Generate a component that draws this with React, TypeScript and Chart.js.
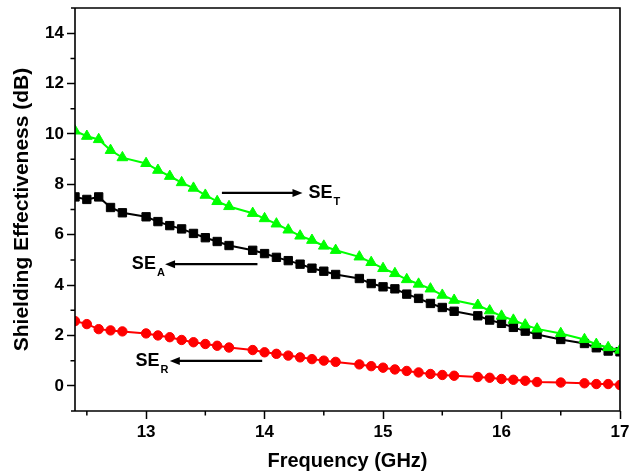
import { useEffect, useRef } from "react";
import { Chart, registerables } from "chart.js";

Chart.register(...registerables);

const FONT = '"Liberation Sans", Arial, sans-serif';

const frequencyGHz = [
  12.4, 12.5, 12.6, 12.7, 12.8, 13.0, 13.1, 13.2, 13.3, 13.4, 13.5, 13.6, 13.7, 13.9,
  14.0, 14.1, 14.2, 14.3, 14.4, 14.5, 14.6, 14.8, 14.9, 15.0, 15.1, 15.2, 15.3, 15.4,
  15.5, 15.6, 15.8, 15.9, 16.0, 16.1, 16.2, 16.3, 16.5, 16.7, 16.8, 16.9, 17.0,
];

const seT = [
  10.12, 9.91, 9.78, 9.35, 9.06, 8.83, 8.56, 8.32, 8.07, 7.85, 7.57, 7.32, 7.12, 6.85,
  6.64, 6.43, 6.19, 5.95, 5.78, 5.55, 5.38, 5.12, 4.9, 4.66, 4.46, 4.22, 4.04, 3.85,
  3.6, 3.4, 3.2, 2.98, 2.77, 2.61, 2.42, 2.26, 2.08, 1.84, 1.65, 1.52, 1.42,
];

const seA = [
  7.5, 7.4, 7.5, 7.08, 6.87, 6.71, 6.52, 6.36, 6.23, 6.05, 5.88, 5.73, 5.57, 5.38,
  5.25, 5.1, 4.97, 4.83, 4.67, 4.55, 4.42, 4.26, 4.06, 3.93, 3.85, 3.64, 3.47, 3.27,
  3.11, 2.96, 2.78, 2.61, 2.48, 2.32, 2.17, 2.04, 1.84, 1.68, 1.51, 1.38, 1.35,
];

const seR = [
  2.57, 2.45, 2.25, 2.2, 2.16, 2.08, 2.0, 1.93, 1.82, 1.73, 1.66, 1.59, 1.52, 1.42,
  1.33, 1.27, 1.2, 1.13, 1.06, 1.0, 0.95, 0.85, 0.78, 0.72, 0.65, 0.59, 0.53, 0.47,
  0.43, 0.4, 0.35, 0.32, 0.27, 0.24, 0.2, 0.15, 0.13, 0.1, 0.07, 0.07, 0.03,
];

const xMajorTicks = [13, 14, 15, 16, 17];
const xMinorTicks = [12.5, 13.5, 14.5, 15.5, 16.5];
const yMajorTicks = [0, 2, 4, 6, 8, 10, 12, 14];
const yMinorTicks = [1, 3, 5, 7, 9, 11, 13];

const arrowNotes = [
  { text: "SE", sub: "T", tailX: 13.64, headX: 14.32, y: 7.66, labelX: 14.37 },
  { text: "SE", sub: "A", tailX: 13.94, headX: 13.16, y: 4.83, labelX: 12.88 },
  { text: "SE", sub: "R", tailX: 13.98, headX: 13.2, y: 0.99, labelX: 12.91 },
];

const toPoints = (ys: number[]) => frequencyGHz.map((x, i) => ({ x, y: ys[i] }));

const framePlugin = {
  id: "frameAndNotes",
  afterDraw(chart: any) {
    const { ctx, chartArea: ca, scales } = chart;
    const xs = scales.x;
    const ys = scales.y;
    ctx.save();
    ctx.strokeStyle = "#000";
    ctx.lineWidth = 1.6;
    ctx.beginPath();
    ctx.moveTo(ca.left - 4, ca.top);
    ctx.lineTo(ca.right, ca.top);
    ctx.lineTo(ca.right, ca.bottom);
    ctx.moveTo(ca.left - 4, ca.bottom);
    ctx.lineTo(ca.right, ca.bottom);
    ctx.moveTo(ca.left, ca.top);
    ctx.lineTo(ca.left, ca.bottom);
    ctx.stroke();

    ctx.lineWidth = 1.5;
    ctx.beginPath();
    for (const v of xMinorTicks) {
      const px = xs.getPixelForValue(v);
      ctx.moveTo(px, ca.bottom);
      ctx.lineTo(px, ca.bottom + 4.5);
    }
    for (const v of yMinorTicks) {
      const py = ys.getPixelForValue(v);
      ctx.moveTo(ca.left, py);
      ctx.lineTo(ca.left - 4.5, py);
    }
    ctx.stroke();

    for (const n of arrowNotes) {
      const py = ys.getPixelForValue(n.y);
      const tx = xs.getPixelForValue(n.tailX);
      const hx = xs.getPixelForValue(n.headX);
      const dir = hx > tx ? 1 : -1;
      ctx.strokeStyle = "#000";
      ctx.fillStyle = "#000";
      ctx.lineWidth = 2.2;
      ctx.beginPath();
      ctx.moveTo(tx, py);
      ctx.lineTo(hx - dir * 6, py);
      ctx.stroke();
      ctx.beginPath();
      ctx.moveTo(hx, py);
      ctx.lineTo(hx - dir * 10, py - 4);
      ctx.lineTo(hx - dir * 10, py + 4);
      ctx.closePath();
      ctx.fill();

      const lx = xs.getPixelForValue(n.labelX);
      ctx.textAlign = "left";
      ctx.textBaseline = "middle";
      ctx.font = `bold 18px ${FONT}`;
      ctx.fillText(n.text, lx, py);
      const w = ctx.measureText(n.text).width;
      ctx.font = `bold 11px ${FONT}`;
      ctx.fillText(n.sub, lx + w + 1, py + 9);
    }
    ctx.restore();
  },
};

export default function App() {
  const canvasRef = useRef<HTMLCanvasElement | null>(null);

  useEffect(() => {
    document.body.style.margin = "0";
    const canvas = canvasRef.current;
    if (!canvas) return;

    const pointDs = (label: string, ys: number[], color: string, style: string, radius: number) => ({
      label,
      data: toPoints(ys),
      borderColor: color,
      backgroundColor: color,
      borderWidth: 2,
      pointStyle: style,
      pointRadius: radius,
      pointBorderWidth: 1,
      pointBorderColor: color,
      pointBackgroundColor: color,
      tension: 0,
    });

    const chart = new Chart(canvas, {
      type: "line",
      data: {
        datasets: [
          pointDs("SE_R", seR, "#ff0000", "circle", 4.7),
          pointDs("SE_T", seT, "#00ff00", "triangle", 6.2),
          pointDs("SE_A", seA, "#000000", "rect", 5.9),
        ],
      },
      options: {
        responsive: false,
        animation: false,
        layout: { padding: { top: 8, right: 18, left: 0, bottom: 0 } },
        plugins: { legend: { display: false }, tooltip: { enabled: false } },
        scales: {
          x: {
            type: "linear",
            min: 12.4,
            max: 17,
            afterBuildTicks: (s: any) => {
              s.ticks = xMajorTicks.map((v) => ({ value: v }));
            },
            afterFit: (s: any) => {
              s.height = 65;
              s.paddingLeft = 0;
              s.paddingRight = 0;
            },
            grid: {
              drawOnChartArea: false,
              drawTicks: true,
              tickLength: 8,
              tickWidth: 1.5,
              tickColor: "#000",
            },
            border: { display: false },
            ticks: {
              color: "#000",
              font: { family: FONT, size: 17, weight: "bold" },
              padding: 3,
              maxRotation: 0,
              autoSkip: false,
              callback: (v: any) => String(v),
            },
            title: {
              display: true,
              text: "Frequency (GHz)",
              color: "#000",
              font: { family: FONT, size: 20, weight: "bold" },
              padding: { top: 0, bottom: 3 },
            },
          },
          y: {
            type: "linear",
            min: -1,
            max: 15,
            afterBuildTicks: (s: any) => {
              s.ticks = yMajorTicks.map((v) => ({ value: v }));
            },
            afterFit: (s: any) => {
              s.width = 75;
              s.paddingTop = 0;
              s.paddingBottom = 0;
            },
            grid: {
              drawOnChartArea: false,
              drawTicks: true,
              tickLength: 8,
              tickWidth: 1.5,
              tickColor: "#000",
            },
            border: { display: false },
            ticks: {
              color: "#000",
              font: { family: FONT, size: 17, weight: "bold" },
              padding: 3,
              autoSkip: false,
              callback: (v: any) => String(v),
            },
            title: {
              display: true,
              text: "Shielding Effectiveness (dB)",
              color: "#000",
              font: { family: FONT, size: 21, weight: "bold" },
              padding: { top: 10, bottom: 0 },
            },
          },
        },
      } as any,
      plugins: [framePlugin],
    });

    return () => chart.destroy();
  }, []);

  return (
    <div style={{ position: "fixed", left: 0, top: 0, width: 638, height: 476, background: "#fff" }}>
      <canvas ref={canvasRef} width={638} height={476} style={{ display: "block" }} />
    </div>
  );
}
